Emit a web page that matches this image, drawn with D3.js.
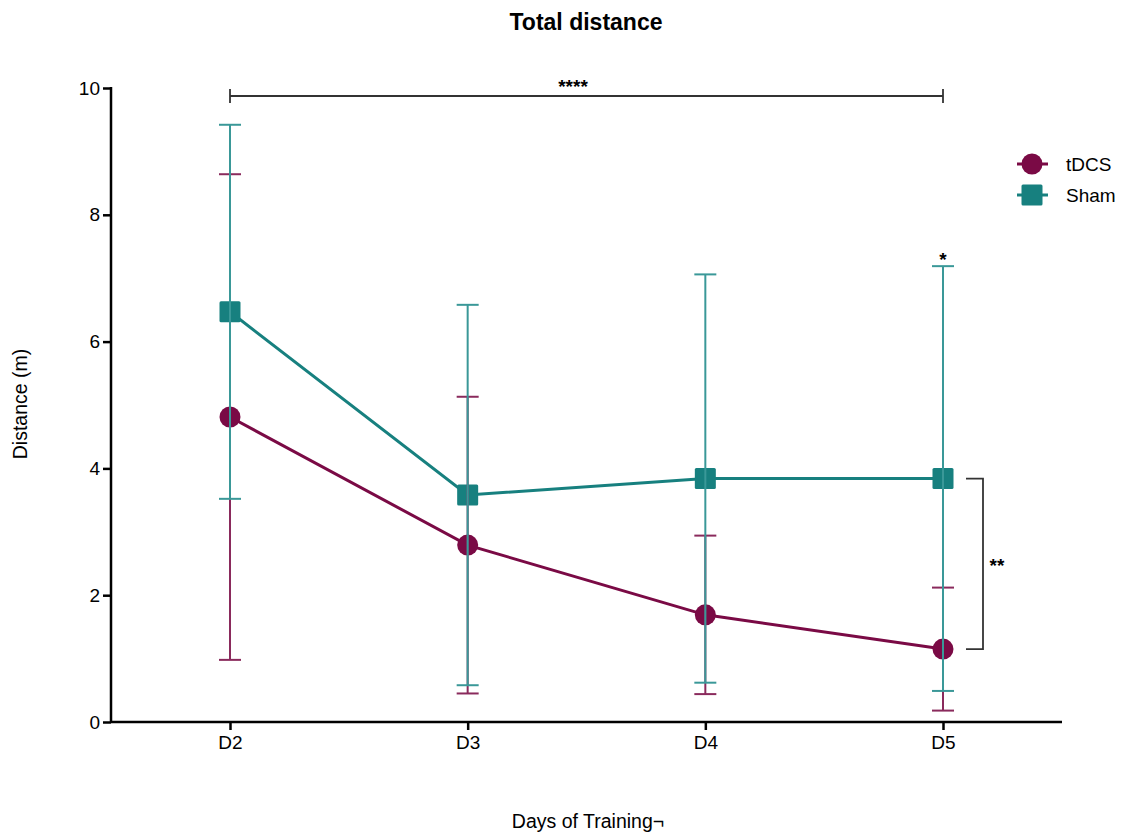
<!DOCTYPE html>
<html>
<head>
<meta charset="utf-8">
<script src="https://cdn.jsdelivr.net/npm/d3@7"></script>
<style>
  body { margin: 0; background: #fff; }
  text { font-family: "Liberation Sans", Arial, sans-serif; }
</style>
</head>
<body>
<script>
var days = ["D2", "D3", "D4", "D5"];
var tdcsMean = [4.81, 2.79, 1.69, 1.15];
var tdcsSd = [3.83, 2.34, 1.25, 0.97];
var shamMean = [6.47, 3.58, 3.84, 3.84];
var shamSd = [2.95, 3.0, 3.22, 3.35];
var yTicks = [0, 2, 4, 6, 8, 10];

var width = 1127, height = 835;
var svg = d3.select("body").append("svg")
    .attr("width", width)
    .attr("height", height);

var x = d3.scalePoint().domain(days).range([230, 943]);
var y = d3.scaleLinear().domain([0, 10]).range([722, 88]);

var tdcsColor = "#7a0a45", shamColor = "#17807f";

// axes
var yAxis = svg.append("g")
    .attr("transform", "translate(111,0)")
    .call(d3.axisLeft(y).tickValues(yTicks).tickSize(8).tickPadding(3));
var xAxis = svg.append("g")
    .attr("transform", "translate(0,722)")
    .call(d3.axisBottom(x).tickSize(8).tickPadding(6));
xAxis.select(".domain").attr("d", "M111,0H1062");
yAxis.select(".domain").attr("d", "M0,722V87");
svg.selectAll(".domain, .tick line").attr("stroke", "#000").attr("stroke-width", 2.5);
svg.selectAll(".tick text").attr("font-size", 19).attr("fill", "#000");

// titles
svg.append("text").attr("x", 586).attr("y", 30).attr("text-anchor", "middle")
    .attr("font-size", 23).attr("font-weight", "bold").text("Total distance");
svg.append("text").attr("x", 588).attr("y", 828).attr("text-anchor", "middle")
    .attr("font-size", 19.5).text("Days of Training¬");
svg.append("text").attr("transform", "translate(27,404) rotate(-90)")
    .attr("text-anchor", "middle").attr("font-size", 19.5).text("Distance (m)");

var series = [
    {name: "tDCS", mean: tdcsMean, sd: tdcsSd, color: tdcsColor, shape: "circle"},
    {name: "Sham", mean: shamMean, sd: shamSd, color: shamColor, shape: "square"}
];

var line = d3.line().x(function(d, i) { return x(days[i]); }).y(function(d) { return y(d); });

series.forEach(function(s) {
    svg.append("path").attr("d", line(s.mean))
        .attr("fill", "none").attr("stroke", s.color).attr("stroke-width", 3);
});

function marker(g, s, cx, cy) {
    if (s.shape === "circle") {
        g.append("circle").attr("cx", cx).attr("cy", cy).attr("r", 10.5).attr("fill", s.color);
    } else {
        g.append("rect").attr("x", cx - 10.5).attr("y", cy - 10.5)
            .attr("width", 21).attr("height", 21).attr("rx", 1.5).attr("fill", s.color);
    }
}

series.forEach(function(s) {
    var g = svg.append("g");
    s.mean.forEach(function(m, i) { marker(g, s, x(days[i]), y(m)); });
});

// error bars on top of markers
series.forEach(function(s) {
    var g = svg.append("g").attr("stroke", s.name === "Sham" ? "#3a9898" : "#8a2a5c").attr("stroke-width", 2);
    s.mean.forEach(function(m, i) {
        var cx = x(days[i]);
        var hi = y(m + s.sd[i]), lo = y(m - s.sd[i]);
        g.append("line").attr("x1", cx).attr("x2", cx).attr("y1", hi).attr("y2", lo);
        [hi, lo].forEach(function(yy) {
            g.append("line").attr("x1", cx - 11).attr("x2", cx + 11).attr("y1", yy).attr("y2", yy);
        });
    });
});

// significance annotations
var sig = svg.append("g").attr("stroke", "#333").attr("stroke-width", 1.8).attr("fill", "none");
var yTop = 96;
sig.append("path").attr("d", "M" + x("D2") + "," + yTop + "H" + x("D5"));
sig.append("path").attr("d", "M" + x("D2") + "," + (yTop - 7) + "V" + (yTop + 7));
sig.append("path").attr("d", "M" + x("D5") + "," + (yTop - 7) + "V" + (yTop + 7));
svg.append("text").attr("x", 573).attr("y", 93).attr("text-anchor", "middle")
    .attr("font-size", 19).attr("font-weight", "bold").text("****");

var bx = 983;
sig.append("path").attr("d", "M966," + y(shamMean[3]) + "H" + bx + "V" + y(tdcsMean[3]) + "H966");
svg.append("text").attr("x", 997).attr("y", 572).attr("text-anchor", "middle")
    .attr("font-size", 19).attr("font-weight", "bold").text("**");
svg.append("text").attr("x", x("D5")).attr("y", 266).attr("text-anchor", "middle")
    .attr("font-size", 19).attr("font-weight", "bold").text("*");

// legend
var legend = svg.append("g");
series.forEach(function(s, i) {
    var ly = 164 + i * 31;
    legend.append("line").attr("x1", 1017).attr("x2", 1048).attr("y1", ly).attr("y2", ly)
        .attr("stroke", s.color).attr("stroke-width", 3);
    marker(legend, s, 1032, ly);
    legend.append("text").attr("x", 1066).attr("y", ly + 7).attr("font-size", 19).text(s.name);
});
</script>
</body>
</html>
